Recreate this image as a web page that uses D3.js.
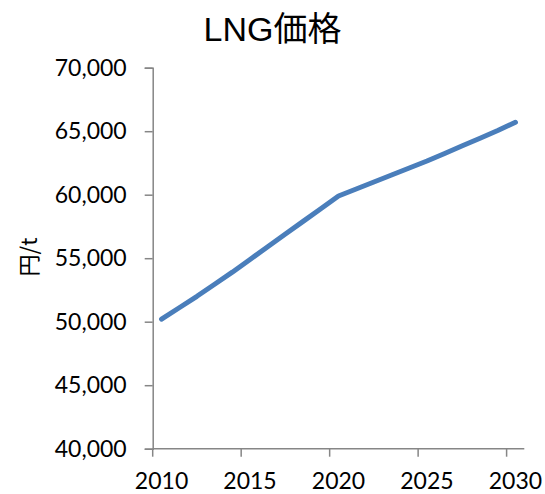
<!DOCTYPE html>
<html>
<head>
<meta charset="utf-8">
<script src="https://cdn.jsdelivr.net/npm/d3@7"></script>
<style>
  body { margin: 0; background: #fff; }
  svg text { fill: #000; }
</style>
</head>
<body>
<div id="visContainer"></div>
<script>
// data
const years = [2010, 2011, 2012, 2013, 2014, 2015, 2016, 2017, 2018, 2019, 2020,
               2021, 2022, 2023, 2024, 2025, 2026, 2027, 2028, 2029, 2030];
const prices = [50200, 51100, 52000, 52950, 53900, 54900, 55900, 56900, 57900, 58900, 59900,
                60450, 61000, 61550, 62100, 62650, 63250, 63850, 64450, 65050, 65700];
const yTicks = [40000, 45000, 50000, 55000, 60000, 65000, 70000];
const xLabels = [2010, 2015, 2020, 2025, 2030];
const title = "LNG価格";
const yLabel = "円/t";

function makeVis() {
  const width = 545;
  const height = 494;
  const margins = { left: 152.7, right: 20.7, top: 67.7, bottom: 45.3 };
  const axisColor = "#868686";
  const latin = "Lato, 'Noto Sans CJK JP', sans-serif";

  const svg = d3.create("svg")
    .attr("width", width)
    .attr("height", height);
  document.querySelector("#visContainer").append(svg.node());

  const xScale = d3.scaleBand()
    .domain(years)
    .range([margins.left, width - margins.right]);
  const yScale = d3.scaleLinear()
    .domain([40000, 70000])
    .range([height - margins.bottom, margins.top]);

  const fmt = d3.format(",");

  // y axis
  const yAxis = svg.append("g")
    .attr("transform", `translate(${margins.left},0)`)
    .call(d3.axisLeft(yScale).tickValues(yTicks).tickFormat(fmt).tickSize(8).tickPadding(18));
  yAxis.select(".domain").attr("stroke", axisColor).attr("stroke-width", 1.5);
  yAxis.selectAll(".tick line").attr("stroke", axisColor).attr("stroke-width", 1.5);
  yAxis.selectAll(".tick text")
    .attr("font-family", latin)
    .attr("font-size", 23)
    .attr("fill", "#000");

  // x axis: ticks on category boundaries, labels at category centres
  const xg = svg.append("g")
    .attr("transform", `translate(0,${height - margins.bottom})`);
  xg.append("line")
    .attr("x1", xScale.range()[0]).attr("x2", xScale.range()[1])
    .attr("stroke", axisColor).attr("stroke-width", 1.5);
  xg.selectAll(".xt")
    .data(xLabels)
    .join("line")
    .attr("class", "xt")
    .attr("x1", d => xScale(d)).attr("x2", d => xScale(d))
    .attr("y1", 0).attr("y2", 8)
    .attr("stroke", axisColor).attr("stroke-width", 1.5);
  xg.selectAll(".xl")
    .data(xLabels)
    .join("text")
    .attr("class", "xl")
    .attr("x", d => xScale(d) + xScale.bandwidth() / 2)
    .attr("y", 40)
    .attr("text-anchor", "middle")
    .attr("font-family", latin)
    .attr("font-size", 23)
    .text(d => d);

  // line
  const line = d3.line()
    .x((d, i) => xScale(years[i]) + xScale.bandwidth() / 2)
    .y(d => yScale(d));
  svg.append("path")
    .datum(prices)
    .attr("d", line)
    .attr("fill", "none")
    .attr("stroke", "#4a7ebb")
    .attr("stroke-width", 5)
    .attr("stroke-linecap", "round")
    .attr("stroke-linejoin", "round");

  // title
  svg.append("text")
    .attr("x", 272.5)
    .attr("y", 41)
    .attr("text-anchor", "middle")
    .attr("font-family", "'Liberation Sans', 'Noto Sans CJK JP', sans-serif")
    .attr("font-size", 34)
    .text(title);

  // y label
  svg.append("text")
    .attr("transform", "translate(37,257) rotate(-90)")
    .attr("text-anchor", "middle")
    .attr("font-family", "'Noto Sans CJK JP', sans-serif")
    .attr("font-size", 22)
    .text(yLabel);
}

makeVis();
</script>
</body>
</html>
